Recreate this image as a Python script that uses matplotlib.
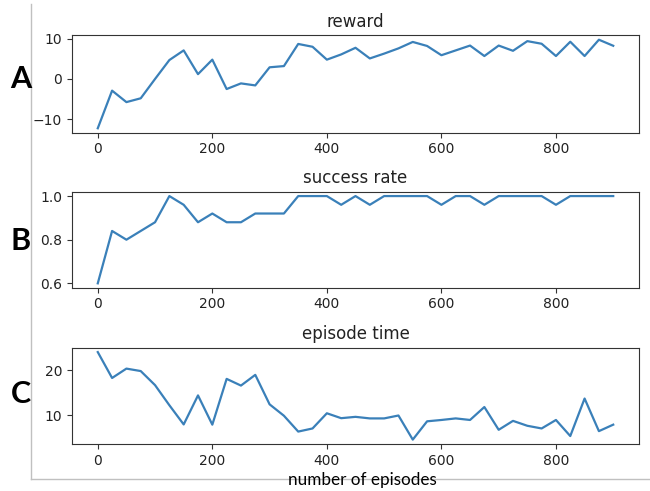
import numpy as np
import matplotlib
matplotlib.use("Agg")
from matplotlib import pyplot as plt
from matplotlib.lines import Line2D

# -------------------- Datos --------------------
episodes = list(range(0, 901, 25))

reward = [-12.25, -2.9, -5.75, -4.8, 0.0, 4.7, 7.1, 1.2, 4.8, -2.5,
          -1.1, -1.6, 2.9, 3.2, 8.7, 8.0, 4.8, 6.1, 7.75, 5.1,
          6.3, 7.6, 9.2, 8.2, 5.9, 7.1, 8.3, 5.7, 8.3, 7.0,
          9.4, 8.75, 5.7, 9.25, 5.7, 9.75, 8.25]

success_rate = [0.60, 0.84, 0.80, 0.84, 0.88, 1.00, 0.96, 0.88, 0.92, 0.88,
                0.88, 0.92, 0.92, 0.92, 1.00, 1.00, 1.00, 0.96, 1.00, 0.96,
                1.00, 1.00, 1.00, 1.00, 0.96, 1.00, 1.00, 0.96, 1.00, 1.00,
                1.00, 1.00, 0.96, 1.00, 1.00, 1.00, 1.00]

episode_time = [24.1, 18.3, 20.4, 19.85, 16.7, 12.2, 7.9, 14.4, 7.85, 18.1,
                16.6, 19.0, 12.4, 9.85, 6.3, 7.0, 10.4, 9.3, 9.6, 9.25,
                9.25, 9.9, 4.5, 8.6, 8.9, 9.25, 8.9, 11.8, 6.7, 8.7,
                7.6, 7.0, 8.9, 5.3, 13.7, 6.4, 7.85]

titles = ["reward", "success rate", "episode time"]
panel_labels = ["A", "B", "C"]
series = [reward, success_rate, episode_time]
yticks = [[-10, 0, 10], [0.6, 0.8, 1.0], [10, 20]]

# -------------------- Figura --------------------
W, H = 650, 491
fig = plt.figure(figsize=(W / 100, H / 100), dpi=100)

# posiciones de los ejes en pixeles (izq, arriba, der, abajo)
boxes = [(72, 35.3, 639, 132.7), (72, 191.7, 639, 287.7), (72, 347.7, 639, 444)]
label_y = [79, 241, 394]

for (x0, y0, x1, y1), data, title, lab, ly, yt in zip(boxes, series, titles, panel_labels, label_y, yticks):
    ax = fig.add_axes([x0 / W, 1 - y1 / H, (x1 - x0) / W, (y1 - y0) / H])
    ax.plot(episodes, data, color="#3a80b9", linewidth=1.6)
    ax.set_title(title, fontsize=12, color="#222222")
    ax.tick_params(labelsize=10, colors="#333333", labelcolor="#222222")
    for s in ax.spines.values():
        s.set_color("#333333")
    ax.set_xticks([0, 200, 400, 600, 800])
    ax.set_yticks(yt)
    fig.text(21 / W, 1 - ly / H, lab, fontsize=22, fontweight="bold",
             family=["Lato", "DejaVu Sans"], ha="center", va="center")

# marco gris de la captura
fig.add_artist(Line2D([30.5 / W, 30.5 / W], [1 - 4 / H, 1 - 479 / H],
                      transform=fig.transFigure, color="#c0c0c0", linewidth=1))
fig.add_artist(Line2D([30.5 / W, 1.0], [1 - 479 / H, 1 - 479 / H],
                      transform=fig.transFigure, color="#c0c0c0", linewidth=1))

fig.text(362.5 / W, 1 - 480 / H, "number of episodes", fontsize=12.3,
         family=["Lato", "DejaVu Sans"], ha="center", va="center", zorder=5)

fig.savefig("out.png", dpi=100)
